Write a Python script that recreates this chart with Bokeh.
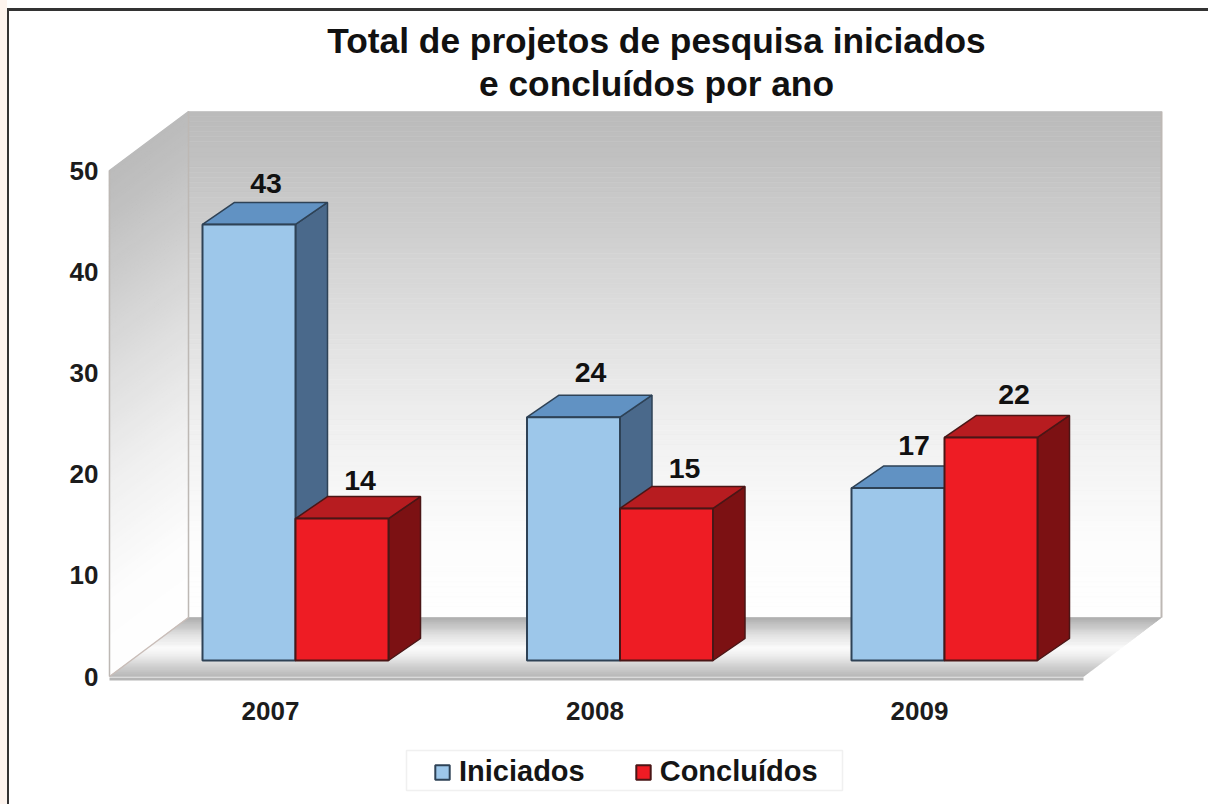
import numpy as np
from bokeh.embed import file_html
from bokeh.resources import INLINE
from bokeh.plotting import figure
from bokeh.models import (Range1d, LinearAxis, FixedTicker, Legend, LegendItem, Title, InlineStyleSheet)
from bokeh.core.properties import value

# ---- data
years = ["2007", "2008", "2009"]
iniciados = [43, 24, 17]
concluidos = [14, 15, 22]
y_ticks = [0, 10, 20, 30, 40, 50]
title_lines = ["Total de projetos de pesquisa iniciados", "e concluídos por ano"]

# ---- layout
W, H = 1208, 804
M_L, M_R, M_T, M_B = 104, 0, 104, 0      # frame margins
PX_GROUP = 324.5                         # px per category
PX_VAL = 10.14                           # px per value unit
fw, fh = W - M_L - M_R, H - M_T - M_B
x0 = (295 - M_L) / PX_GROUP              # data x of left frame edge (negated)
y0 = (H - M_B - 660) / PX_VAL            # data y below bar base

BAR_W = 93 / PX_GROUP
BAR_DX, BAR_DY = 32 / PX_GROUP, 22 / PX_VAL
WALL_DX, WALL_DY = 79 / PX_GROUP, 59 / PX_VAL
F_L = (109 - 295) / PX_GROUP             # front-left corner of the box
F_B = (660 - 676) / PX_VAL               # front base of the box
F_R = (1083 - 295) / PX_GROUP
BOX_H = 506 / PX_VAL

frame_css = InlineStyleSheet(css="""
:host::before { content:''; position:absolute; left:0; top:0; width:7px; height:804px;
                background:#fdf4ee; z-index:5; pointer-events:none; }
:host::after  { content:''; position:absolute; left:7px; top:8px; right:0; bottom:0;
                border-top:3px solid #333333; border-left:2px solid #333333;
                z-index:5; pointer-events:none; }
""")

p = figure(width=W, height=H, output_backend="svg", toolbar_location=None,
           x_range=Range1d(-x0, -x0 + fw / PX_GROUP),
           y_range=Range1d(-y0, -y0 + fh / PX_VAL),
           x_axis_location=None, y_axis_location=None,
           min_border_left=M_L, min_border_right=M_R, min_border_top=M_T, min_border_bottom=M_B,
           background_fill_color="white", border_fill_color="white", outline_line_color=None,
           stylesheets=[frame_css], title=None)
p.grid.visible = False

# separate scales for the two axes: their labels sit on the front plane
AX_PX = 10.12
ax0 = (H - M_B - 676) / AX_PX
p.extra_y_ranges["axis"] = Range1d(-ax0, -ax0 + fh / AX_PX)
cx0 = (270 - M_L) / PX_GROUP
p.extra_x_ranges["cat"] = Range1d(-cx0, -cx0 + fw / PX_GROUP)

TICK_COL = "#1c1c1c"
yax = LinearAxis(y_range_name="axis", ticker=FixedTicker(ticks=y_ticks))
xax = LinearAxis(x_range_name="cat", ticker=FixedTicker(ticks=[0, 1, 2]),
                 major_label_overrides={i: y for i, y in enumerate(years)},
                 fixed_location=(660 - 682) / PX_VAL)
for ax in (yax, xax):
    ax.axis_line_color = None
    ax.major_tick_line_color = None
    ax.minor_tick_line_color = None
    ax.major_label_text_font = "Liberation Sans"
    ax.major_label_text_font_style = "bold"
    ax.major_label_text_font_size = "26px"
    ax.major_label_text_color = TICK_COL
yax.major_label_standoff = 0
xax.major_label_standoff = 13
p.add_layout(yax, "left")
p.add_layout(xax, "below")

# title: two lines, each centred
for line, so in zip(reversed(title_lines), (3, 2)):
    p.add_layout(Title(text=line, align="center", text_font="Liberation Sans", text_font_style="bold",
                       text_font_size="35.3px", text_color="#111111", standoff=so), "above")


def grey(t, ts, vs):
    g = np.interp(t, ts, vs)
    return "#%02x%02x%02x" % (int(g), int(g), int(g))


# ---- walls: stacked strips stand in for the gradient fill
N = 100
wall_ts, wall_vs = [0, 0.10, 0.4, 0.62, 0.85, 1], [187, 194, 222, 240, 253, 255]
edges = np.linspace(0, 1, N + 1)
cols = [grey((edges[i] + edges[i + 1]) / 2, wall_ts, wall_vs) for i in range(N)]
B_L, B_R, B_B = F_L + WALL_DX, (1161 - 295) / PX_GROUP, F_B + WALL_DY
B_T = B_B + BOX_H
# back wall
p.quad(left=B_L, right=B_R, top=B_T - edges[:-1] * BOX_H, bottom=B_T - edges[1:] * BOX_H,
       fill_color=cols, line_color=cols, line_width=0.6)
# side wall
xs_side, ys_side = [], []
for i in range(N):
    a, b = edges[i], edges[i + 1]
    xs_side.append([F_L, B_L, B_L, F_L])
    ys_side.append([F_B + BOX_H * (1 - a), B_B + BOX_H * (1 - a), B_B + BOX_H * (1 - b), F_B + BOX_H * (1 - b)])
p.patches(xs_side, ys_side, fill_color=cols, line_color=cols, line_width=1.4)
# floor
floor_ts, floor_vs = [0, 0.08, 0.3, 0.52, 0.64, 0.8, 1], [170, 184, 225, 252, 240, 212, 182]
Nf = 60
fe = np.linspace(0, 1, Nf + 1)
fcols = [grey((fe[i] + fe[i + 1]) / 2, floor_ts, floor_vs) for i in range(Nf)]
xs_fl, ys_fl = [], []
for i in range(Nf):
    a, b = fe[i], fe[i + 1]
    la, lb = B_L + (F_L - B_L) * a, B_L + (F_L - B_L) * b
    ra, rb = B_R + (F_R - B_R) * a, B_R + (F_R - B_R) * b
    ya, yb = B_B + (F_B - B_B) * a, B_B + (F_B - B_B) * b
    xs_fl.append([la, ra, rb, lb])
    ys_fl.append([ya, ya, yb, yb])
p.patches(xs_fl, ys_fl, fill_color=fcols, line_color=fcols, line_width=0.6)
# edges of the box
EDGE = "#bdb8b4"
p.line([F_L, F_L], [F_B, F_B + BOX_H], line_color=EDGE, line_width=1.5)
p.line([B_L, B_L], [B_B, B_T], line_color=EDGE, line_width=1.5)
p.line([B_R, B_R], [B_B, B_T], line_color=EDGE, line_width=2)
p.line([F_L, B_L], [F_B, B_B], line_color="#c9bdb8", line_width=1.5)
p.line([F_L, F_R], [F_B - 0.25, F_B - 0.25], line_color="#b5b5b5", line_width=3)


# ---- 3D bars
def bars(vals, side, front, top, dark, outline):
    g = np.arange(len(vals))
    left = g + (0 if side else -BAR_W)
    right = left + BAR_W
    v = np.array(vals, dtype=float)
    xs_s = [[r, r + BAR_DX, r + BAR_DX, r] for r in right]
    ys_s = [[0, BAR_DY, t + BAR_DY, t] for t in v]
    xs_t = [[l, l + BAR_DX, r + BAR_DX, r] for l, r in zip(left, right)]
    ys_t = [[t, t + BAR_DY, t + BAR_DY, t] for t in v]
    p.patches(xs_s, ys_s, fill_color=dark, line_color=outline, line_width=1.5)
    p.patches(xs_t, ys_t, fill_color=top, line_color=outline, line_width=1.5)
    return p.quad(left=left, right=right, bottom=0, top=v, fill_color=front,
                  line_color=outline, line_width=2)


r_ini = bars(iniciados, 0, "#9dc7ea", "#6192c3", "#4a698b", "#2e4256")
r_con = bars(concluidos, 1, "#ee1c24", "#b71c20", "#7c1113", "#4a1616")

# ---- value labels (nudges in px: the reference places them unevenly)
n = len(years)
nudge_x = np.array([1, 1, 0, 2, 2, 7]) / PX_GROUP
nudge_y = np.array([1, 5, 3, -2, 0, 3]) / PX_VAL
lab_x = np.concatenate([np.arange(n) - BAR_W / 2 + BAR_DX / 2, np.arange(n) + BAR_W / 2 + BAR_DX / 2]) + nudge_x
lab_y = np.array(iniciados + concluidos, dtype=float) + BAR_DY + 18 / PX_VAL + nudge_y
lab_t = [str(v) for v in iniciados + concluidos]
p.text(lab_x, lab_y, text=lab_t, text_font=value("Liberation Sans"), text_font_style="bold",
       text_font_size="28.5px", text_align="center", text_baseline="middle", text_color="#111111")

# ---- legend: a pale box behind a bare legend
p.quad(left=(406 - 295) / PX_GROUP, right=(842 - 295) / PX_GROUP,
       bottom=(660 - 790) / PX_VAL, top=(660 - 750) / PX_VAL,
       fill_color="white", line_color="#f0f0f0", line_width=1.5)
leg = Legend(items=[LegendItem(label="Iniciados", renderers=[r_ini]),
                    LegendItem(label="Concluídos", renderers=[r_con])],
             orientation="horizontal", location=(329, 16),
             glyph_width=18, glyph_height=18, label_text_font="Liberation Sans",
             label_text_font_style="bold", label_text_font_size="29px",
             label_text_color="#151515", border_line_color=None,
             background_fill_alpha=0,
             padding=0, margin=0, spacing=49, label_standoff=8)
p.add_layout(leg, "center")

open("out.html", "w").write(file_html(p, INLINE))
